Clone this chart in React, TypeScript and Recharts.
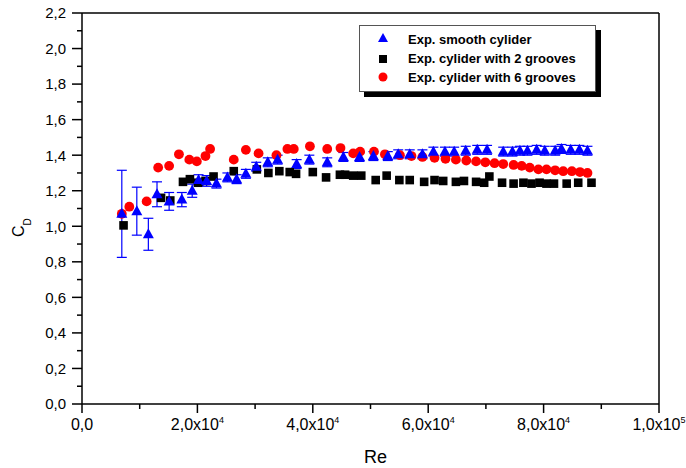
import React from 'react';
import { ScatterChart, Scatter, XAxis, YAxis, ErrorBar, ReferenceLine, Legend } from 'recharts';

const FONT = "'Liberation Sans', Arial, sans-serif";

// Exp. smooth cylider
const smoothRe = [6900, 9500, 11500, 13000, 15100, 17300, 19100, 20200, 21600, 23300, 25200, 26800, 28400, 30200, 32200, 33900, 37200, 39400, 42500, 45300, 48100, 50500, 53000, 54800, 56800, 59000, 60900, 62900, 64500, 66500, 68500, 70200, 73000, 74600, 75900, 77200, 78800, 80200, 82000, 83100, 84700, 86200, 87600];
const smoothCd = [1.07, 1.085, 0.955, 1.18, 1.14, 1.15, 1.2, 1.26, 1.255, 1.24, 1.275, 1.265, 1.295, 1.335, 1.36, 1.375, 1.35, 1.375, 1.36, 1.39, 1.39, 1.395, 1.395, 1.405, 1.405, 1.405, 1.42, 1.42, 1.42, 1.425, 1.43, 1.43, 1.42, 1.42, 1.425, 1.425, 1.43, 1.425, 1.425, 1.435, 1.43, 1.43, 1.425];
const smoothErr = [0.245, 0.135, 0.09, 0.07, 0.05, 0.04, 0.037, 0.03, 0.03, 0.025, 0.025, 0.025, 0.025, 0.025, 0.025, 0.025, 0.025, 0.025, 0.025, 0.025, 0.025, 0.025, 0.025, 0.025, 0.025, 0.025, 0.025, 0.025, 0.025, 0.025, 0.025, 0.025, 0.025, 0.025, 0.025, 0.025, 0.025, 0.025, 0.025, 0.025, 0.025, 0.025, 0.025];

// Exp. cylider with 2 grooves
const grooves2Re = [7200, 13700, 15300, 17500, 18700, 20100, 21400, 22800, 26300, 30300, 32300, 34200, 36000, 37100, 40000, 42300, 44700, 45600, 47000, 48400, 50900, 52800, 55000, 56800, 59300, 61100, 62600, 64800, 66200, 68300, 69700, 70600, 72800, 74800, 76500, 77900, 79300, 80500, 81800, 84000, 86000, 88300];
const grooves2Cd = [1.005, 1.16, 1.145, 1.25, 1.265, 1.245, 1.255, 1.28, 1.31, 1.32, 1.3, 1.31, 1.305, 1.295, 1.305, 1.275, 1.29, 1.29, 1.285, 1.285, 1.26, 1.285, 1.26, 1.26, 1.25, 1.26, 1.255, 1.25, 1.255, 1.25, 1.245, 1.28, 1.245, 1.24, 1.245, 1.24, 1.245, 1.24, 1.24, 1.24, 1.245, 1.245];

// Exp. cylider with 6 grooves
const grooves6Re = [6900, 8200, 11200, 13200, 15100, 16800, 18600, 19900, 21400, 22200, 26300, 28400, 30600, 33700, 35600, 36700, 39500, 42500, 44800, 47000, 48200, 50600, 52500, 55100, 57100, 59000, 61100, 63000, 64800, 66600, 68300, 69900, 71500, 73000, 74800, 76200, 77600, 79100, 80500, 82000, 83400, 84900, 86300, 87600];
const grooves6Cd = [1.07, 1.11, 1.14, 1.33, 1.34, 1.405, 1.375, 1.365, 1.395, 1.435, 1.375, 1.43, 1.41, 1.4, 1.435, 1.435, 1.45, 1.435, 1.44, 1.41, 1.42, 1.42, 1.405, 1.4, 1.395, 1.39, 1.385, 1.38, 1.375, 1.37, 1.365, 1.36, 1.355, 1.35, 1.345, 1.34, 1.33, 1.32, 1.32, 1.315, 1.31, 1.31, 1.305, 1.3];

const seriesNames = ['Exp. smooth cylider', 'Exp. cylider with 2 grooves', 'Exp. cylider with 6 grooves'];

const xTicks = [0, 10000, 20000, 30000, 40000, 50000, 60000, 70000, 80000, 90000, 100000];
const yTicks = [0, 0.1, 0.2, 0.3, 0.4, 0.5, 0.6, 0.7, 0.8, 0.9, 1.0, 1.1, 1.2, 1.3, 1.4, 1.5, 1.6, 1.7, 1.8, 1.9, 2.0, 2.1, 2.2];

const smoothData = smoothRe.map((x, i) => ({ x, y: smoothCd[i], err: smoothErr[i] }));
const grooves2Data = grooves2Re.map((x, i) => ({ x, y: grooves2Cd[i] }));
const grooves6Data = grooves6Re.map((x, i) => ({ x, y: grooves6Cd[i] }));

const Triangle = (props: any) => {
  const { cx, cy } = props;
  if (cx == null || cy == null) return null;
  return <path d={`M${cx},${cy - 6} L${cx + 5.5},${cy + 4} L${cx - 5.5},${cy + 4} Z`} fill="#0000ff" />;
};

const Square = (props: any) => {
  const { cx, cy } = props;
  if (cx == null || cy == null) return null;
  return <rect x={cx - 4.3} y={cy - 4.3} width={8.6} height={8.6} fill="#000" />;
};

const Dot = (props: any) => {
  const { cx, cy } = props;
  if (cx == null || cy == null) return null;
  return <circle cx={cx} cy={cy} r={4.9} fill="#ff0000" />;
};

const XTick = (props: any) => {
  const { x, y, payload } = props;
  const v = payload.value;
  const major = v % 20000 === 0;
  let label: any = null;
  if (major) {
    if (v === 0) {
      label = <text x={x} y={y + 26} textAnchor="middle" fontSize={16} fontFamily={FONT} fill="#000">0,0</text>;
    } else {
      const exp = Math.floor(Math.log10(v));
      const mant = (v / Math.pow(10, exp)).toFixed(1).replace('.', ',');
      label = (
        <text x={x} y={y + 26} textAnchor="middle" fontSize={16} fontFamily={FONT} fill="#000">
          {mant}x10<tspan dy={-7} fontSize={9}>{exp}</tspan>
        </text>
      );
    }
  }
  return (
    <g>
      <line x1={x} y1={y} x2={x} y2={y + (major ? 9 : 5)} stroke="#000" strokeWidth={1.5} />
      {label}
    </g>
  );
};

const YTick = (props: any) => {
  const { x, y, payload } = props;
  const v = payload.value;
  const major = Math.round(v * 10) % 2 === 0;
  return (
    <g>
      <line x1={x} y1={y} x2={x - (major ? 10 : 5)} y2={y} stroke="#000" strokeWidth={1.5} />
      {major && (
        <text x={x - 16} y={y} dy="0.36em" textAnchor="end" fontSize={15} fontFamily={FONT} fill="#000">
          {v.toFixed(1).replace('.', ',')}
        </text>
      )}
    </g>
  );
};

const XTitle = (props: any) => {
  const { viewBox } = props;
  return (
    <text x={viewBox.x + viewBox.width / 2 + 5} y={viewBox.y + 59} textAnchor="middle" fontSize={18} fontFamily={FONT} fill="#000">
      Re
    </text>
  );
};

const YTitle = (props: any) => {
  const { viewBox } = props;
  const x = viewBox.x + 2;
  const y = 237;
  return (
    <text x={x} y={y} transform={`rotate(-90 ${x} ${y})`} fontSize={16} fontFamily={FONT} fill="#000">
      C<tspan dy={7} fontSize={10}>D</tspan>
    </text>
  );
};

const LegendBox = () => {
  const icons = [
    <path key="t" d="M24,8 L29,17 L19,17 Z" fill="#0000ff" />,
    <rect key="s" x={20} y={30} width={8} height={8} fill="#000" />,
    <circle key="c" cx={24} cy={52} r={4.5} fill="#ff0000" />,
  ];
  return (
    <div style={{ position: 'relative', width: 237, height: 67, boxSizing: 'border-box', border: '1px solid #555', background: '#fff', boxShadow: '5px 5px 0 #000', fontFamily: FONT, fontWeight: 'bold', fontSize: 13, color: '#000' }}>
      <svg width={48} height={67} style={{ position: 'absolute', left: -1, top: -1 }}>{icons}</svg>
      {seriesNames.map((name, i) => (
        <div key={name} style={{ position: 'absolute', left: 48, top: 6 + i * 19, lineHeight: '16px', whiteSpace: 'nowrap' }}>
          {name}
        </div>
      ))}
    </div>
  );
};

export default function App() {
  return (
    <div style={{ position: 'absolute', left: 0, top: 0, width: 686, height: 468, overflow: 'hidden', background: '#fff' }}>
      <ScatterChart width={686} height={468} margin={{ top: 13, right: 27, left: 22, bottom: 34 }}>
        <XAxis
          type="number"
          dataKey="x"
          domain={[0, 100000]}
          ticks={xTicks}
          interval={0}
          allowDataOverflow
          height={30}
          tickSize={0}
          tickMargin={0}
          tickLine={false}
          axisLine={{ stroke: '#000', strokeWidth: 1.5 }}
          tick={<XTick />}
          label={<XTitle />}
        />
        <YAxis
          type="number"
          dataKey="y"
          domain={[0, 2.2]}
          ticks={yTicks}
          interval={0}
          allowDataOverflow
          width={60}
          tickSize={0}
          tickMargin={0}
          tickLine={false}
          axisLine={{ stroke: '#000', strokeWidth: 1.5 }}
          tick={<YTick />}
          label={<YTitle />}
        />
        <ReferenceLine y={2.2} stroke="#000" strokeWidth={1.5} ifOverflow="visible" />
        <ReferenceLine x={100000} stroke="#000" strokeWidth={1.5} ifOverflow="visible" />
        <Legend
          layout="vertical"
          align="center"
          verticalAlign="middle"
          content={<LegendBox />}
          wrapperStyle={{ left: 359, top: 25, width: 237, height: 67 }}
        />
        <Scatter name={seriesNames[2]} data={grooves6Data} shape={<Dot />} isAnimationActive={false} />
        <Scatter name={seriesNames[1]} data={grooves2Data} shape={<Square />} isAnimationActive={false} />
        <Scatter name={seriesNames[0]} data={smoothData} shape={<Triangle />} isAnimationActive={false}>
          <ErrorBar dataKey="err" direction="y" width={5} stroke="#0000ff" strokeWidth={1.2} />
        </Scatter>
      </ScatterChart>
    </div>
  );
}
